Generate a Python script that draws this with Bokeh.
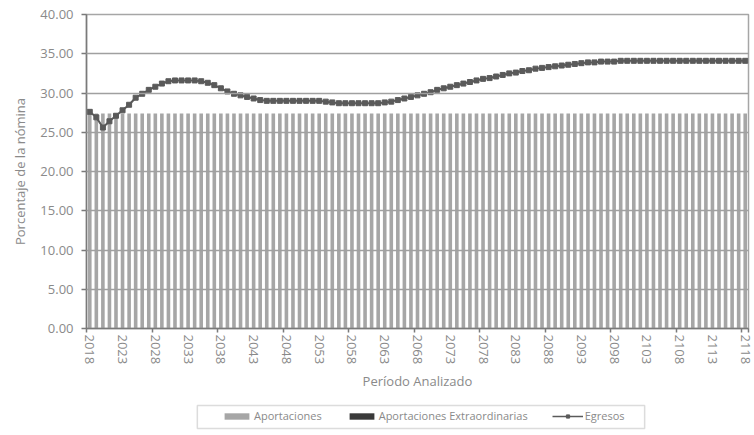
from bokeh.plotting import figure
from bokeh.layouts import column
from bokeh.models import (ColumnDataSource, FixedTicker, Legend, LegendItem, NumeralTickFormatter,
                          Range1d, Title, BoxAnnotation)
from bokeh.embed import file_html
from bokeh.resources import INLINE

years = list(range(2018, 2119))
tick_years = [2018, 2023, 2028, 2033, 2038, 2043, 2048, 2053, 2058, 2063, 2068,
              2073, 2078, 2083, 2088, 2093, 2098, 2103, 2108, 2113, 2118]
aportaciones = [27.40] * 101
aportaciones_extra = [0.0] * 101
egresos = [
    27.6, 26.9, 25.6, 26.4, 27.1, 27.8, 28.5, 29.4, 29.9, 30.4,
    30.8, 31.2, 31.5, 31.6, 31.6, 31.6, 31.6, 31.5, 31.3, 31.0,
    30.6, 30.2, 29.9, 29.7, 29.5, 29.3, 29.1, 29.0, 29.0, 29.0,
    29.0, 29.0, 29.0, 29.0, 29.0, 29.0, 28.9, 28.8, 28.7, 28.7,
    28.7, 28.7, 28.7, 28.7, 28.7, 28.8, 28.9, 29.1, 29.3, 29.5,
    29.7, 29.9, 30.1, 30.4, 30.6, 30.8, 31.0, 31.2, 31.4, 31.6,
    31.8, 31.9, 32.1, 32.3, 32.5, 32.6, 32.8, 32.9, 33.1, 33.2,
    33.3, 33.4, 33.5, 33.6, 33.7, 33.8, 33.9, 33.9, 34.0, 34.0,
    34.0, 34.1, 34.1, 34.1, 34.1, 34.1, 34.1, 34.1, 34.1, 34.1,
    34.1, 34.1, 34.1, 34.1, 34.1, 34.1, 34.1, 34.1, 34.1, 34.1,
    34.1,
]
y_ticks = [0, 5, 10, 15, 20, 25, 30, 35, 40]
# tick marks sit on category boundaries every 10 years
boundary_ticks = [y - 0.5 for y in years[::10]] + [years[-1] + 0.5]

src = ColumnDataSource(dict(year=years, ap=aportaciones, ext=aportaciones_extra, eg=egresos))

FONT = "Open Sans"
TXT = "#8a8a8a"
BAR = "#a6a6a6"
EXT = "#3a3a3a"
LINE = "#5a5a5a"

p = figure(width=754, height=395, output_backend="svg", toolbar_location=None,
           x_range=Range1d(2017.5, 2118.5), y_range=Range1d(0, 40),
           min_border_left=85, min_border_right=6, min_border_top=14, min_border_bottom=67)
p.background_fill_color = "white"
p.border_fill_color = "white"
p.outline_line_color = "#a6a6a6"
p.outline_line_width = 1.5

p.vbar(x="year", top="ap", bottom=0, width=0.55, source=src, fill_color=BAR, line_color=None)
p.vbar(x="year", top="ext", bottom=0, width=0.55, source=src, fill_color=EXT, line_color=None)
p.line(x="year", y="eg", source=src, line_color=LINE, line_width=2)
p.scatter(x="year", y="eg", source=src, marker="square", size=5, fill_color=LINE, line_color=LINE)

p.xgrid.visible = False
p.ygrid.grid_line_color = "#a0a0a0"
p.ygrid.grid_line_width = 1.5
p.ygrid.level = "guide"
p.ygrid.ticker = FixedTicker(ticks=y_ticks)

p.xaxis.ticker = FixedTicker(ticks=tick_years, minor_ticks=boundary_ticks)
p.xaxis.major_label_orientation = "vertical"
p.xaxis.major_tick_line_color = None
p.xaxis.major_tick_out = 4
p.xaxis.major_tick_in = 0
p.xaxis.minor_tick_line_color = "#7a7a7a"
p.xaxis.minor_tick_line_width = 1.5
p.xaxis.minor_tick_out = 4
p.xaxis.minor_tick_in = 0
p.xaxis.major_label_standoff = 2
p.xaxis.axis_label = "Período Analizado"
p.xaxis.axis_label_standoff = 5

p.yaxis.ticker = FixedTicker(ticks=y_ticks)
p.yaxis.formatter = NumeralTickFormatter(format="0.00")
p.yaxis.minor_tick_line_color = None
p.yaxis.major_tick_out = 5
p.yaxis.major_tick_in = 0
p.yaxis.major_tick_line_color = "#7a7a7a"
p.yaxis.major_tick_line_width = 1.5
p.yaxis.major_label_standoff = 8

for ax in (p.xaxis, p.yaxis):
    ax.axis_line_color = "#7a7a7a"
    ax.axis_line_width = 1.5
    ax.major_label_text_font = FONT
    ax.major_label_text_font_size = "13px"
    ax.major_label_text_color = TXT
    ax.axis_label_text_font = FONT
    ax.axis_label_text_font_size = "13px"
    ax.axis_label_text_font_style = "normal"
    ax.axis_label_text_color = TXT

ytitle = Title(text="Porcentaje de la nómina", align="center", offset=-14,
               text_font=FONT, text_font_size="13px", text_font_style="normal",
               text_color=TXT, standoff=17)
p.add_layout(ytitle, "left")

# legend strip below the chart (its frame is aligned with the chart's frame: x 85..748)
p2 = figure(width=754, height=38, output_backend="svg", toolbar_location=None,
            x_range=Range1d(85, 748), y_range=Range1d(100, 138),
            min_border_left=85, min_border_right=6, min_border_top=0, min_border_bottom=0,
            outline_line_color=None)
p2.axis.visible = False
p2.grid.visible = False
# legend renderers reuse the data; their marks fall outside this strip's range
l_ap = p2.vbar(x="year", top="ap", width=0.55, source=src, fill_color=BAR, line_color=None)
l_ext = p2.vbar(x="year", top="ext", width=0.55, source=src, fill_color=EXT, line_color=None)
l_line = p2.line(x="year", y="eg", source=src, line_color=LINE, line_width=1.5)
l_mark = p2.scatter(x="year", y="eg", source=src, marker="square", size=5,
                    fill_color=LINE, line_color=LINE)

p2.add_layout(BoxAnnotation(left=196, right=644, bottom=105, top=128, fill_alpha=0,
                            line_color="#8a8a8a", line_width=1.5))

legend = Legend(items=[
    LegendItem(label="Aportaciones", renderers=[l_ap]),
    LegendItem(label="Aportaciones Extraordinarias", renderers=[l_ext]),
    LegendItem(label="Egresos", renderers=[l_line, l_mark]),
], location=(135, 10), orientation="horizontal")
legend.label_text_font = FONT
legend.label_text_font_size = "11px"
legend.label_text_color = TXT
legend.label_height = 12
legend.glyph_width = 31
legend.glyph_height = 8
legend.spacing = 24
legend.padding = 0
legend.margin = 0
legend.label_standoff = 2
legend.border_line_color = None
legend.background_fill_alpha = 0
p2.add_layout(legend, "center")

open("out.html", "w").write(file_html(column(p, p2, spacing=0), INLINE))
